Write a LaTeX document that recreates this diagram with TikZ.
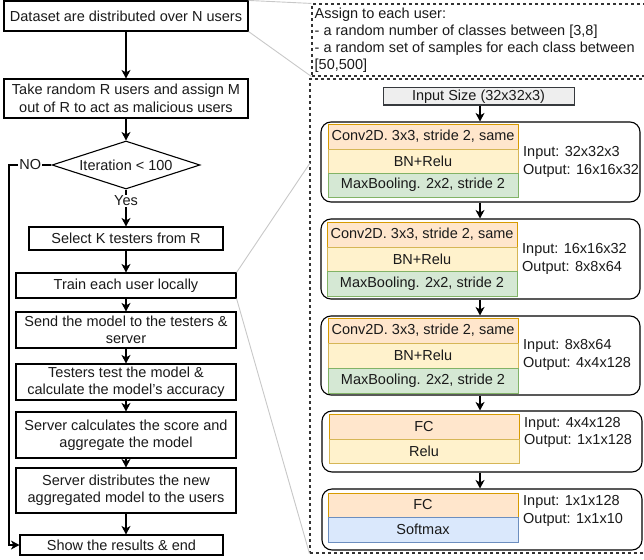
\documentclass[tikz,border=0pt]{standalone}
\usepackage{fontspec}
\setmainfont{Liberation Sans}
\usetikzlibrary{shapes.geometric,arrows.meta}
\definecolor{orfill}{HTML}{FFE6CC}\definecolor{ordraw}{HTML}{D79B00}
\definecolor{yefill}{HTML}{FFF2CC}\definecolor{yedraw}{HTML}{D6B656}
\definecolor{grfill}{HTML}{D5E8D4}\definecolor{grdraw}{HTML}{82B366}
\definecolor{blfill}{HTML}{DAE8FC}\definecolor{bldraw}{HTML}{6C8EBF}
\definecolor{insfill}{HTML}{EEEEEE}\definecolor{insdraw}{HTML}{36393D}
\definecolor{zoomline}{HTML}{C8C8C8}\definecolor{dashc}{HTML}{333333}
\definecolor{txt}{HTML}{1A1A1A}
\tikzset{
  every node/.style={font=\fontsize{14.5}{17.4}\selectfont, text=txt},
  flowbox/.style={draw=black, line width=1.1pt, fill=white, inner sep=0pt, align=center},
  decis/.style={draw=black, line width=1.1pt, diamond, aspect=3.08, inner sep=0pt, minimum width=148pt, minimum height=48pt},
  arr/.style={line width=1.1pt, -{Stealth[length=8.5pt,width=9pt,inset=2.5pt]}},
  lbl/.style={fill=white, inner sep=1pt},
  zoomln/.style={draw=zoomline, line width=0.9pt},
  dashbox/.style={draw=dashc, line width=1.1pt, dash pattern=on 3pt off 3pt, inner sep=0pt},
  block/.style={draw=black, line width=1.1pt, rounded corners=10pt, inner sep=0pt, minimum width=319pt},
  layer/.style={inner sep=0pt, line width=1pt, minimum width=190pt},
  conv/.style={layer, draw=ordraw, fill=orfill},
  bnr/.style={layer, draw=yedraw, fill=yefill},
  maxp/.style={layer, draw=grdraw, fill=grfill},
  soft/.style={layer, draw=bldraw, fill=blfill},
  iotxt/.style={anchor=west, align=left, inner sep=0pt},
}
\begin{document}
\begin{tikzpicture}[x=1pt,y=-1pt]
\useasboundingbox (0,0) rectangle (644,559);
% left flowchart
\node[flowbox, minimum width=244pt, minimum height=30pt] (b1) at (126,16) {Dataset are distributed over N users};
\node[flowbox, minimum width=244pt, minimum height=39pt] (b2) at (126,98.5) {Take random R users and assign M\\out of R to act as malicious users};
\node[decis] (dia) at (126,165) {Iteration < 100};
\node[flowbox, minimum width=194pt, minimum height=23pt] (b3) at (126,238.5) {Select K testers from R};
\node[flowbox, minimum width=220pt, minimum height=25pt] (b4) at (126,285.5) {Train each user locally};
\node[flowbox, minimum width=220pt, minimum height=36pt] (b5) at (126,330) {Send the model to the testers \&\\server};
\node[flowbox, minimum width=220pt, minimum height=36pt] (b6) at (126,382) {Testers test the model \&\\calculate the model's accuracy};
\node[flowbox, minimum width=220pt, minimum height=46pt] (b7) at (126,435) {Server calculates the score and\\aggregate the model};
\node[flowbox, minimum width=220pt, minimum height=45pt] (b8) at (126,490.5) {Server distributes the new\\aggregated model to the users};
\node[flowbox, minimum width=203pt, minimum height=20pt] (b9) at (121.5,545) {Show the results \& end};
\coordinate (nocorner) at (9,165);
\draw[arr] (b1) -- (b2);
\draw[arr] (b2) -- (dia);
\draw[arr] (dia) -- node[lbl, pos=0.3] {Yes} (b3);
\draw[arr] (b3) -- (b4);
\draw[arr] (b4) -- (b5);
\draw[arr] (b5) -- (b6);
\draw[arr] (b6) -- (b7);
\draw[arr] (b7) -- (b8);
\draw[arr] (b8.south) -- (b8.south |- b9.north);
\draw[arr] (dia.west) -- node[lbl] {NO} (nocorner) |- (b9.west);
% right side containers
\node[dashbox, minimum width=338pt, minimum height=72pt] (d1) at (481,40) {};
\node[anchor=north west, align=left, inner sep=0pt, font=\fontsize{14.5}{17}\selectfont] (assign) at (314.5,7.5) {Assign to each user:\\- a random number of classes between [3,8]\\- a random set of samples for each class between\\{[50,500]}};
\node[dashbox, minimum width=340pt, minimum height=474pt] (d2) at (480,316) {};
\coordinate (g3end) at (310,163);
\draw[zoomln] (b1.north east) -- (d1.north west);
\draw[zoomln] (b1.south east) -- (d1.south west);
\draw[zoomln] (b4.north east) -- (g3end);
\draw[zoomln] (b4.south east) -- (d2.south west);
% network
\node[draw=insdraw, fill=insfill, line width=1pt, inner sep=0pt, minimum width=191pt, minimum height=17pt] (inp) at (478.5,96.5) {Input Size (32x32x3)};
\node[block, minimum height=80pt] (blk1) at (480.5,162) {};
\node[conv, minimum height=25pt] (c1) at (423,136.5) {Conv2D. 3x3, stride 2, same};
\node[bnr, minimum height=24pt] (n1) at (423,161) {BN+Relu};
\node[maxp, minimum height=24pt] (m1) at (423,185) {MaxBooling. 2x2, stride 2};
\node[iotxt] (io1) at (523,162) {Input: 32x32x3\\Output: 16x16x32};
\node[block, minimum height=80pt] (blk2) at (480.5,259) {};
\node[conv, minimum height=25pt] (c2) at (422,234.5) {Conv2D. 3x3, stride 2, same};
\node[bnr, minimum height=24pt] (n2) at (422,259) {BN+Relu};
\node[maxp, minimum height=25pt] (m2) at (422,283.5) {MaxBooling. 2x2, stride 2};
\node[iotxt] (io2) at (522,259) {Input: 16x16x32\\Output: 8x8x64};
\node[block, minimum height=79pt] (blk3) at (480.5,355.5) {};
\node[conv, minimum height=25pt] (c3) at (423,330.5) {Conv2D. 3x3, stride 2, same};
\node[bnr, minimum height=25pt] (n3) at (423,355.5) {BN+Relu};
\node[maxp, minimum height=25pt] (m3) at (423,380.5) {MaxBooling. 2x2, stride 2};
\node[iotxt] (io3) at (523,355) {Input: 8x8x64\\Output: 4x4x128};
\node[block, minimum width=320pt, minimum height=61pt] (blk4) at (482,441.5) {};
\node[conv, minimum height=25pt] (f4) at (424,426.5) {FC};
\node[bnr, minimum height=24pt] (r4) at (424,451) {Relu};
\node[iotxt] (io4) at (524,432.5) {Input: 4x4x128\\Output: 1x1x128};
\node[block, minimum width=320pt, minimum height=61pt] (blk5) at (482,519.5) {};
\node[conv, minimum height=24pt] (f5) at (423,505) {FC};
\node[soft, minimum height=25pt] (s5) at (423,529.5) {Softmax};
\node[iotxt] (io5) at (523,511) {Input: 1x1x128\\Output: 1x1x10};
\coordinate (ax) at (480,0);
\draw[arr] (ax |- inp.south) -- (ax |- blk1.north);
\draw[arr] (ax |- blk1.south) -- (ax |- blk2.north);
\draw[arr] (ax |- blk2.south) -- (ax |- blk3.north);
\draw[arr] (ax |- blk3.south) -- (ax |- blk4.north);
\draw[arr] (ax |- blk4.south) -- (ax |- blk5.north);
\end{tikzpicture}
\end{document}
